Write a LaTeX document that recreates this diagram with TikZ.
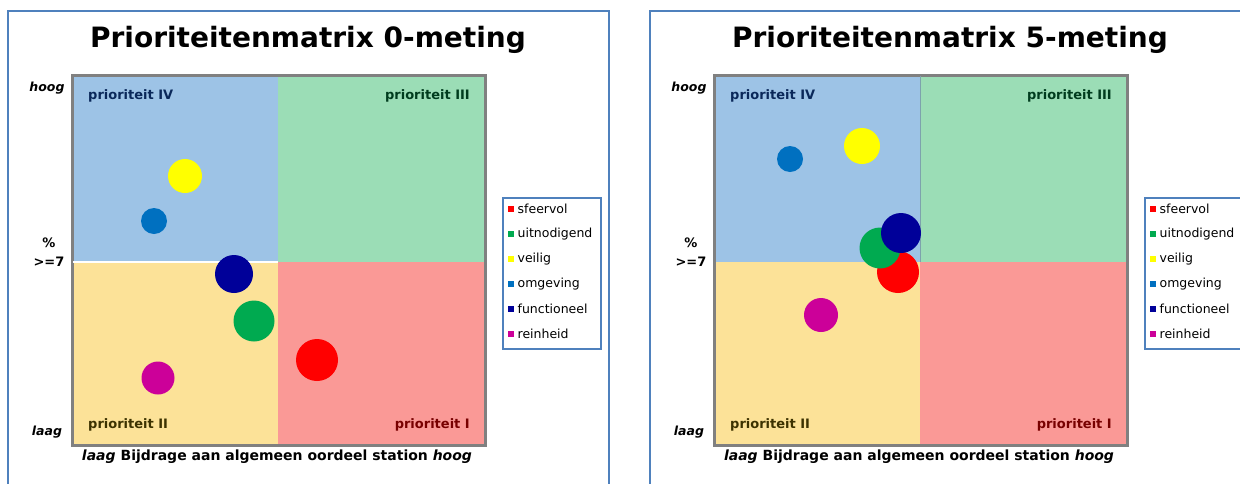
\documentclass[tikz,border=0pt]{standalone}
\usepackage{fontspec}
\setmainfont{DejaVu Sans}
\usetikzlibrary{positioning}
\usepackage{xcolor}
\definecolor{frameblue}{RGB}{79,129,189}
\definecolor{qblue}{RGB}{157,195,230}
\definecolor{qgreen}{RGB}{155,221,182}
\definecolor{qyellow}{RGB}{252,226,152}
\definecolor{qred}{RGB}{250,153,150}
\definecolor{lblblue}{RGB}{10,40,90}
\definecolor{lblgreen}{RGB}{0,60,30}
\definecolor{lblyellow}{RGB}{60,50,0}
\definecolor{lblred}{RGB}{120,0,0}
\definecolor{cred}{RGB}{255,0,0}
\definecolor{cgreen}{RGB}{0,170,80}
\definecolor{cyellow}{RGB}{255,255,0}
\definecolor{cblue}{RGB}{0,112,192}
\definecolor{cnavy}{RGB}{0,0,153}
\definecolor{cpink}{RGB}{204,0,153}

\begin{document}
\begin{tikzpicture}[
    x=1pt, y=-1pt,
    every node/.style={inner sep=0pt},
    frame/.style={draw=frameblue, line width=2pt},
    title/.style={font=\fontsize{28}{34}\selectfont\bfseries},
    qlabel/.style={font=\fontsize{13}{15}\selectfont\bfseries},
    axis/.style={font=\fontsize{12.5}{14}\selectfont\bfseries\itshape},
    pctlabel/.style={font=\fontsize{13}{15}\selectfont\bfseries},
    xlabel/.style={font=\fontsize{14}{16}\selectfont\bfseries},
    dot/.style={circle, minimum size=#1},
    key/.style={rectangle, minimum size=6.5pt},
    legtext/.style={font=\fontsize{12.5}{14}\selectfont}
]
\useasboundingbox (0,0) rectangle (1240,483);
\clip (0,0) rectangle (1240,483);
\fill[white] (0,0) rectangle (1240,483);

\foreach \off/\meting/\p in {0/0/a, 642/5/b} {
  \begin{scope}[xshift=\off pt]
    % panel frame and title
    \draw[frame] (8,11) rectangle (609,500);
    \node[title] (title\p) at (308,40) {Prioriteitenmatrix \meting-meting};
    % quadrants
    \fill[qblue] (72,75) rectangle (278,262);
    \fill[qgreen] (278,75) rectangle (485,262);
    \fill[qyellow] (72,262) rectangle (278,445);
    \fill[qred] (278,262) rectangle (485,445);
    \draw[gray, line width=3pt] (72,75) rectangle (485,445);
    \node[qlabel, text=lblblue, anchor=west] (q4\p) at (88,96) {prioriteit IV};
    \node[qlabel, text=lblgreen, anchor=east] (q3\p) at (470,96) {prioriteit III};
    \node[qlabel, text=lblyellow, anchor=west] (q2\p) at (88,425) {prioriteit II};
    \node[qlabel, text=lblred, anchor=east] (q1\p) at (470,425) {prioriteit I};
    % axis labels
    \node[axis] (hoogy\p) at (47,88) {hoog};
    \node[axis] (laagy\p) at (47,432) {laag};
    \node[pctlabel] (pct\p) at (49,243) {\%};
    \node[pctlabel] (geq\p) at (49,262) {>=7};
    \node[xlabel] (xlab\p) at (277,457) {{\itshape laag} Bijdrage aan algemeen oordeel station {\itshape hoog}};
    % legend
    \draw[frame] (503,198) rectangle (601,349);
    \foreach \c/\t [count=\i] in {cred/sfeervol, cgreen/uitnodigend, cyellow/veilig,
                                 cblue/omgeving, cnavy/functioneel, cpink/reinheid} {
      \node[key, fill=\c] (k\p\i) at (511,{184+25*\i}) {};
      \node[legtext, right=3pt of k\p\i] (t\p\i) {\t};
    }
  \end{scope}
}

% 0-meting
\draw[white, line width=1.5pt] (73,262) -- (278,262);
\node[dot=34, fill=cyellow] (veiliga) at (185,176) {};
\node[dot=26, fill=cblue] (omgevinga) at (154,221) {};
\node[dot=38, fill=cnavy] (functa) at (234,274) {};
\node[dot=41, fill=cgreen] (uitnoda) at (254,321) {};
\node[dot=42, fill=cred] (sfeera) at (317,360) {};
\node[dot=33, fill=cpink] (reina) at (158,378) {};

% 5-meting
\draw[qblue!70!qgreen!80!black, line width=0.8pt] (920,76) -- (920,262);
\node[dot=26, fill=cblue] (omgevingb) at (790,159) {};
\node[dot=36, fill=cyellow] (veiligb) at (862,146) {};
\node[dot=42, fill=cred] (sfeerb) at (898,272) {};
\node[dot=41, fill=cgreen] (uitnodb) at (880,248) {};
\node[dot=40, fill=cnavy] (functb) at (901,233) {};
\node[dot=34, fill=cpink] (reinb) at (821,315) {};
\end{tikzpicture}
\end{document}
